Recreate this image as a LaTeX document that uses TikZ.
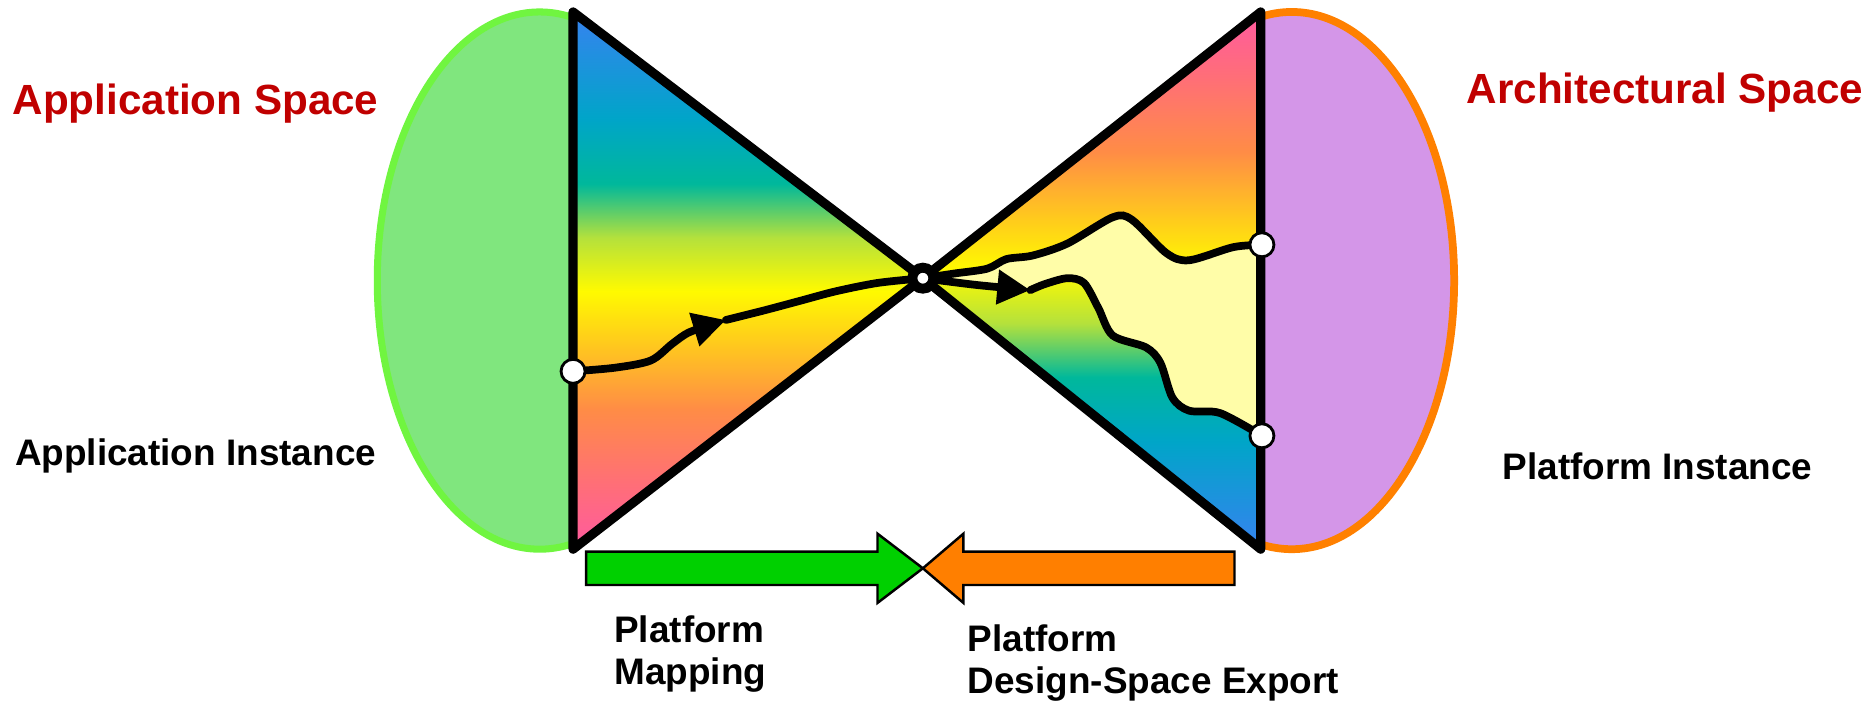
\documentclass[tikz,border=0pt]{standalone}
\usepackage{fontspec}
\setmainfont{Liberation Sans}
\usetikzlibrary{arrows.meta, positioning, backgrounds}
\usepackage{xcolor}
\definecolor{appfill}{RGB}{128, 230, 126}
\definecolor{appline}{RGB}{112, 245, 64}
\definecolor{platfill}{RGB}{212, 150, 232}
\definecolor{platline}{RGB}{255, 128, 0}
\definecolor{spacered}{RGB}{192, 0, 0}
\definecolor{mapgreen}{RGB}{0, 208, 0}
\definecolor{exporange}{RGB}{255, 127, 0}
\definecolor{lightyel}{RGB}{255, 253, 168}
\definecolor{gpink}{RGB}{255, 90, 160}
\definecolor{gsalmon}{RGB}{255, 110, 120}
\definecolor{gorange}{RGB}{255, 140, 70}
\definecolor{gamber}{RGB}{255, 200, 30}
\definecolor{gyellow}{RGB}{255, 250, 0}
\definecolor{glime}{RGB}{180, 225, 60}
\definecolor{gteal}{RGB}{0, 184, 155}
\definecolor{gcyan}{RGB}{0, 165, 200}
\definecolor{gblue}{RGB}{55, 130, 240}

\pgfdeclareverticalshading{appgrad}{100bp}{color(0bp)=(gpink); color(25bp)=(gpink);
  color(31bp)=(gsalmon); color(38bp)=(gorange); color(44bp)=(gamber); color(49bp)=(gyellow);
  color(54bp)=(glime); color(59bp)=(gteal); color(65bp)=(gcyan); color(75bp)=(gblue); color(100bp)=(gblue)}
\pgfdeclareverticalshading{platgrad}{100bp}{color(0bp)=(gblue); color(25bp)=(gblue);
  color(35bp)=(gcyan); color(41bp)=(gteal); color(46bp)=(glime); color(51bp)=(gyellow);
  color(56bp)=(gamber); color(62bp)=(gorange); color(69bp)=(gsalmon); color(75bp)=(gpink); color(100bp)=(gpink)}

\begin{document}
\begin{tikzpicture}[
        x=0.01194cm, y=-0.01194cm,
        dot/.style={circle, draw, fill=white, line width=0.8pt, minimum size=0.24cm, inner sep=0pt},
        hub/.style={circle, draw, fill=white, line width=2.8pt, minimum size=0.21cm, inner sep=0pt},
        wedge/.style={draw, line width=2.6pt, line join=round},
        route/.style={line width=2.2pt, line cap=round},
        flow/.style={route, -{Triangle[length=0.33cm, width=0.33cm]}},
        spacelbl/.style={font=\bfseries\fontsize{12}{14}\selectfont, text=spacered, inner sep=0pt},
        instlbl/.style={font=\bfseries\fontsize{10.5}{11.9}\selectfont, inner sep=0pt, align=left},
        bigarrow/.style={draw, line width=0.7pt, line join=miter}
    ]
    \useasboundingbox (0,0) rectangle (1568,587);

    % Punkte
    \node[dot] (appdot) at (480,311) {};
    \node[dot] (platdotA) at (1057,205) {};
    \node[dot] (platdotB) at (1057,365) {};
    \node[hub] (hub) at (773,233) {};
    \coordinate (atop) at (480,10);
    \coordinate (abot) at (480,460);
    \coordinate (ptop) at (1056,10);
    \coordinate (pbot) at (1056,460);
    \coordinate (mapmid) at (608,268);
    \coordinate (expmid) at (863,243);

    % Texte
    \node[spacelbl, anchor=base west] (appspace) at (10,96) {Application Space};
    \node[spacelbl, anchor=base west] (archspace) at (1228,87) {Architectural Space};
    \node[instlbl, anchor=base west] (appinst) at (12,390) {Application Instance};
    \node[instlbl, anchor=base west] (platinst) at (1258,402) {Platform Instance};
    \node[instlbl, anchor=north west] (maplbl) at (514,515) {Platform\\Mapping};
    \node[instlbl, anchor=north west] (explbl) at (810,523) {Platform\\Design-Space Export};

    \begin{scope}[on background layer]
        % Raeume
        \begin{scope}
            \clip (0,0) rectangle (480,587);
            \draw[fill=appfill, draw=appline, line width=2pt] (452,235) ellipse [x radius=136, y radius=225];
        \end{scope}
        \begin{scope}
            \clip (1056,0) rectangle (1568,587);
            \draw[fill=platfill, draw=platline, line width=2.2pt] (1082,235) ellipse [x radius=136, y radius=225];
        \end{scope}

        % Dreiecke
        \shade[shading=appgrad] (atop) -- (hub.center) -- (abot) -- cycle;
        \shade[shading=platgrad] (ptop) -- (hub.center) -- (pbot) -- cycle;
        \fill[lightyel] plot[smooth] coordinates {(hub) (800,229) (827,225) (843,217) (865,214) (894,204)
            (932,182) (948,184) (977,212) (996,218) (1033,207) (platdotA)}
            -- plot[smooth] coordinates {(platdotB) (1022,346) (996,344) (982,333) (972,304) (960,291)
            (932,281) (920,258) (908,237) (894,233) (875,238) (expmid) (821,239) (796,236) (hub)} -- cycle;
        \draw[wedge] (atop) -- (hub.center) -- (abot) -- cycle;
        \draw[wedge] (ptop) -- (hub.center) -- (pbot) -- cycle;

        % Pfade
        \draw[flow] plot[smooth] coordinates {(appdot) (515,308) (545,302) (563,288) (578,278) (mapmid)};
        \draw[route] plot[smooth] coordinates {(mapmid) (640,260) (670,252) (700,244) (735,237) (hub)};
        \draw[route] plot[smooth] coordinates {(hub) (800,229) (827,225) (843,217) (865,214) (894,204)
            (932,182) (948,184) (977,212) (996,218) (1033,207) (platdotA)};
        \draw[flow] plot[smooth] coordinates {(hub) (796,236) (821,239) (expmid)};
        \draw[route] plot[smooth] coordinates {(expmid) (875,238) (894,233) (908,237) (920,258) (932,281)
            (960,291) (972,304) (982,333) (996,344) (1022,346) (platdotB)};
    \end{scope}

    % Pfeile unten
    \filldraw[bigarrow, fill=mapgreen] (491,462) -- (735,462) -- (735,447) -- (773,476)
        -- (735,505) -- (735,490) -- (491,490) -- cycle;
    \filldraw[bigarrow, fill=exporange] (1034,462) -- (807,462) -- (807,447) -- (773,476)
        -- (807,505) -- (807,490) -- (1034,490) -- cycle;
\end{tikzpicture}
\end{document}
